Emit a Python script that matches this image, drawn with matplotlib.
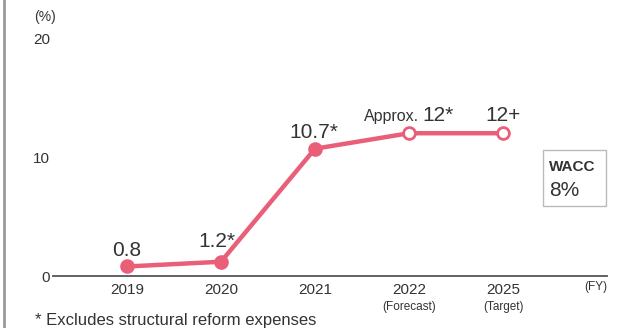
import matplotlib.pyplot as plt
from matplotlib.lines import Line2D

plt.rcParams['font.family'] = ['Liberation Sans', 'DejaVu Sans']

years = ['2019', '2020', '2021', '2022', '2025']
sub_labels = ['', '', '', '(Forecast)', '(Target)']
roic = [0.8, 1.2, 10.7, 12.0, 12.0]
value_labels = ['0.8', '1.2*', '10.7*', '12*', '12+']
is_actual = [True, True, True, False, False]

pink = '#ea5f78'
dark = '#333333'

fig = plt.figure(figsize=(6.43, 3.28), dpi=100)
ax = fig.add_axes([53 / 643, 0.1585, 554 / 643, 0.7255])

x = list(range(len(years)))
ax.plot(x, roic, color=pink, lw=3.2, zorder=2)
for xi, yi, act in zip(x, roic, is_actual):
    ax.plot(xi, yi, 'o', ms=8.5, mfc=pink if act else 'white', mec=pink, mew=2, zorder=3)

# value labels (x shift, y gap above point in data units)
offsets = [(0, 0.9), (-0.04, 1.25), (-0.01, 0.9), (0.31, 1.05), (0, 1.05)]
for i, (lab, (dx, dy)) in enumerate(zip(value_labels, offsets)):
    ax.text(x[i] + dx, roic[i] + dy, lab, ha='center', va='baseline', fontsize=15, color=dark)
ax.text(x[3] + 0.11, roic[3] + 1.05, 'Approx.', ha='right', va='baseline', fontsize=11.5,
        color=dark)

ax.set_xlim(-0.787, 5.106)
ax.set_ylim(0, 20)
ax.set_yticks([0, 10, 20])
ax.tick_params(axis='y', length=0, labelsize=11, labelcolor=dark, pad=2)
ax.set_xticks([])
for s in ['top', 'right', 'left']:
    ax.spines[s].set_visible(False)
ax.spines['bottom'].set_color('#555555')
ax.spines['bottom'].set_linewidth(1.3)

for i, (yr, sub) in enumerate(zip(years, sub_labels)):
    ax.text(x[i], -0.6, yr, ha='center', va='top', fontsize=11, color=dark)
    if sub:
        ax.text(x[i], -2.1, sub, ha='center', va='top', fontsize=8.5, color=dark)

fig.text(34 / 643, 1 - 17 / 328, '(%)', ha='left', va='center', fontsize=10, color=dark)
fig.text(607 / 643, 1 - 287 / 328, '(FY)', ha='right', va='center', fontsize=8.5, color=dark)
fig.text(35 / 643, 1 - 320 / 328, '* Excludes structural reform expenses', ha='left',
         va='center', fontsize=12, color=dark)

# WACC box
box = plt.Rectangle((543 / 643, 1 - 206 / 328), 63 / 643, 56 / 328, transform=fig.transFigure,
                    fill=False, ec='#bbbbbb', lw=1)
fig.patches.append(box)
fig.text(549 / 643, 1 - 167 / 328, 'WACC', ha='left', va='center', fontsize=11,
         fontweight='bold', color=dark)
fig.text(549 / 643, 1 - 190 / 328, '8%', ha='left', va='center', fontsize=15, color=dark)

# left border line
fig.add_artist(Line2D([3.5 / 643, 3.5 / 643], [0, 1], transform=fig.transFigure,
                      color='#999999', lw=2))

fig.savefig('out.png', dpi=100)
